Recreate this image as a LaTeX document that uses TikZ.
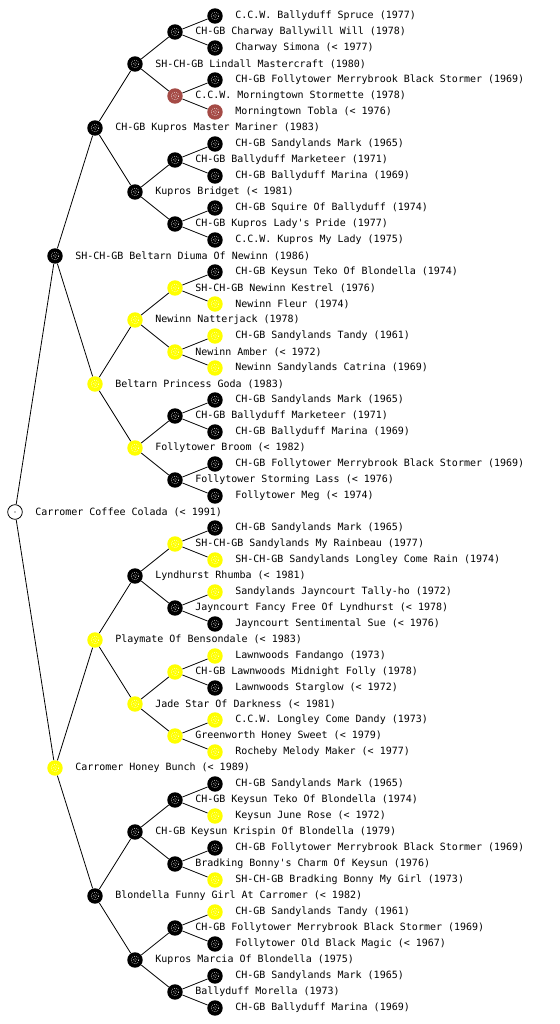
\documentclass[tikz,border=0pt]{standalone}
\usepackage{fontspec}
\newfontfamily\pedmono{DejaVu Sans Mono}
\definecolor{mbrown}{RGB}{165,75,70}
\definecolor{myellow}{RGB}{255,255,0}
\tikzset{
  mark base/.style={circle, inner sep=0pt, minimum size=11.6pt, draw=none,
    path picture={\draw[white, line width=0.45pt, dash pattern=on 0.45pt off 1.1pt]
      (path picture bounding box.center) circle (2.9pt);
      \draw[white, line width=0.4pt, dash pattern=on 0.4pt off 1.2pt]
      (path picture bounding box.center) circle (1.4pt);
      \fill[white] (path picture bounding box.center) circle (0.35pt);}},
  mk/.style={mark base, fill=black},
  my/.style={mark base, fill=myellow},
  mb/.style={mark base, fill=mbrown},
  mw/.style={circle, inner sep=0pt, minimum size=11pt, draw=black, line width=0.6pt, fill=white,
    path picture={\fill[black] (path picture bounding box.center) circle (0.5pt);}},
  lbl/.style={anchor=west, inner sep=0pt, font=\pedmono\fontsize{7.5pt}{9pt}\selectfont},
  edge/.style={draw=black, line width=0.6pt}
}
\begin{document}
\begin{tikzpicture}[x=0.75pt,y=-0.75pt]
\useasboundingbox (0,0) rectangle (560,1024);
\def\pedlist{16/5/k/C.C.W. Ballyduff Spruce (1977),
32/4/k/CH-GB Charway Ballywill Will (1978),
48/5/k/Charway Simona (< 1977),
64/3/k/SH-CH-GB Lindall Mastercraft (1980),
80/5/k/CH-GB Follytower Merrybrook Black Stormer (1969),
96/4/b/C.C.W. Morningtown Stormette (1978),
112/5/b/Morningtown Tobla (< 1976),
128/2/k/CH-GB Kupros Master Mariner (1983),
144/5/k/CH-GB Sandylands Mark (1965),
160/4/k/CH-GB Ballyduff Marketeer (1971),
176/5/k/CH-GB Ballyduff Marina (1969),
192/3/k/Kupros Bridget (< 1981),
208/5/k/CH-GB Squire Of Ballyduff (1974),
224/4/k/CH-GB Kupros Lady's Pride (1977),
240/5/k/C.C.W. Kupros My Lady (1975),
256/1/k/SH-CH-GB Beltarn Diuma Of Newinn (1986),
272/5/k/CH-GB Keysun Teko Of Blondella (1974),
288/4/y/SH-CH-GB Newinn Kestrel (1976),
304/5/y/Newinn Fleur (1974),
320/3/y/Newinn Natterjack (1978),
336/5/y/CH-GB Sandylands Tandy (1961),
352/4/y/Newinn Amber (< 1972),
368/5/y/Newinn Sandylands Catrina (1969),
384/2/y/Beltarn Princess Goda (1983),
400/5/k/CH-GB Sandylands Mark (1965),
416/4/k/CH-GB Ballyduff Marketeer (1971),
432/5/k/CH-GB Ballyduff Marina (1969),
448/3/y/Follytower Broom (< 1982),
464/5/k/CH-GB Follytower Merrybrook Black Stormer (1969),
480/4/k/Follytower Storming Lass (< 1976),
496/5/k/Follytower Meg (< 1974),
512/0/w/Carromer Coffee Colada (< 1991),
528/5/k/CH-GB Sandylands Mark (1965),
544/4/y/SH-CH-GB Sandylands My Rainbeau (1977),
560/5/y/SH-CH-GB Sandylands Longley Come Rain (1974),
576/3/k/Lyndhurst Rhumba (< 1981),
592/5/y/Sandylands Jayncourt Tally-ho (1972),
608/4/k/Jayncourt Fancy Free Of Lyndhurst (< 1978),
624/5/k/Jayncourt Sentimental Sue (< 1976),
640/2/y/Playmate Of Bensondale (< 1983),
656/5/y/Lawnwoods Fandango (1973),
672/4/y/CH-GB Lawnwoods Midnight Folly (1978),
688/5/k/Lawnwoods Starglow (< 1972),
704/3/y/Jade Star Of Darkness (< 1981),
720/5/y/C.C.W. Longley Come Dandy (1973),
736/4/y/Greenworth Honey Sweet (< 1979),
752/5/y/Rocheby Melody Maker (< 1977),
768/1/y/Carromer Honey Bunch (< 1989),
784/5/k/CH-GB Sandylands Mark (1965),
800/4/k/CH-GB Keysun Teko Of Blondella (1974),
816/5/y/Keysun June Rose (< 1972),
832/3/k/CH-GB Keysun Krispin Of Blondella (1979),
848/5/k/CH-GB Follytower Merrybrook Black Stormer (1969),
864/4/k/Bradking Bonny's Charm Of Keysun (1976),
880/5/y/SH-CH-GB Bradking Bonny My Girl (1973),
896/2/k/Blondella Funny Girl At Carromer (< 1982),
912/5/y/CH-GB Sandylands Tandy (1961),
928/4/k/CH-GB Follytower Merrybrook Black Stormer (1969),
944/5/k/Follytower Old Black Magic (< 1967),
960/3/k/Kupros Marcia Of Blondella (1975),
976/5/k/CH-GB Sandylands Mark (1965),
992/4/k/Ballyduff Morella (1973),
1008/5/k/CH-GB Ballyduff Marina (1969)}
% markers and labels
\foreach \y/\g/\c/\t in \pedlist {
  \pgfmathtruncatemacro\xx{15+40*\g}
  \pgfmathtruncatemacro\xt{35+40*\g}
  \node[m\c] (p\y) at (\xx,\y) {};
  \node[lbl] (t\y) at (\xt,\y) {\t};
}
% connectors from each parent to its two children
\foreach \y/\g/\c/\t in \pedlist {
  \ifnum\g<5
    \pgfmathtruncatemacro\dd{256/(2^\g)}
    \pgfmathtruncatemacro\ya{\y-\dd}
    \pgfmathtruncatemacro\yb{\y+\dd}
    \draw[edge] (p\y) -- (p\ya);
    \draw[edge] (p\y) -- (p\yb);
  \fi
}
\end{tikzpicture}
\end{document}
